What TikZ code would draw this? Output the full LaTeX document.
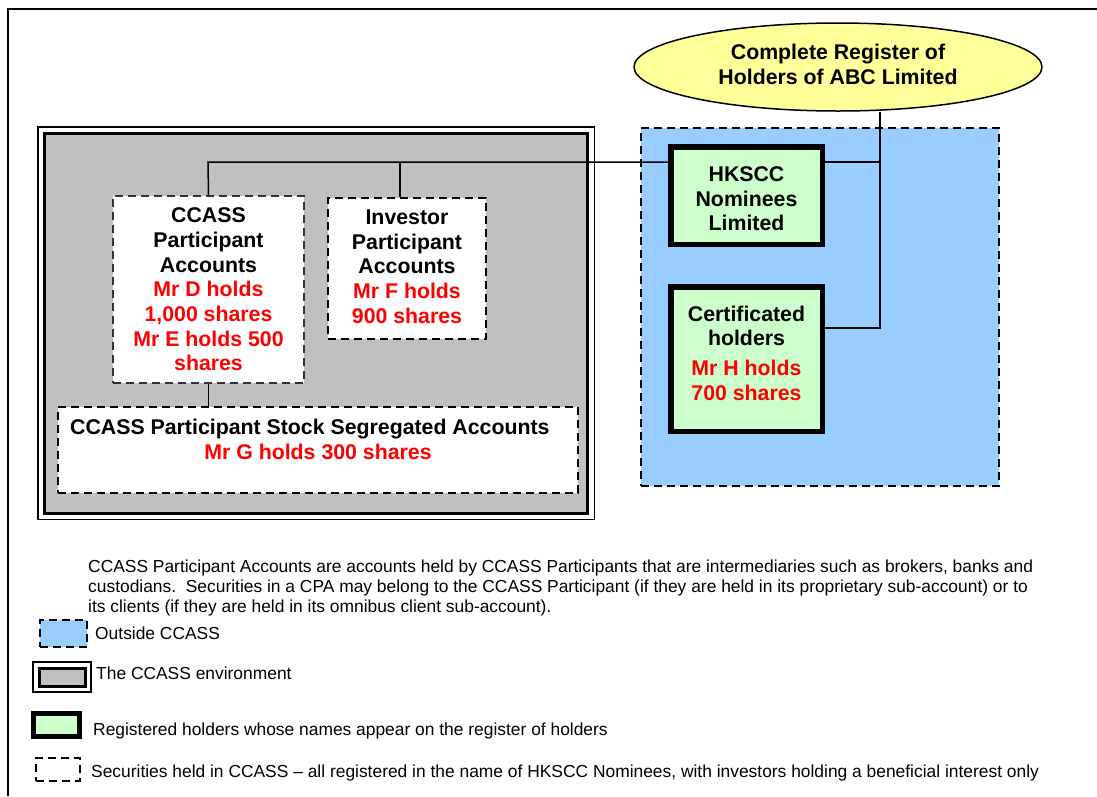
\documentclass[tikz,border=0pt]{standalone}
\usepackage{fontspec}
\setmainfont{Liberation Sans}
\usetikzlibrary{shapes.geometric}
\definecolor{ellyellow}{HTML}{FFFF99}
\definecolor{outblue}{HTML}{99CCFF}
\definecolor{reggreen}{HTML}{CCFFCC}
\definecolor{envgray}{HTML}{C0C0C0}
\definecolor{txtred}{HTML}{FF0000}
\newcommand\redtxt[1]{\textcolor{txtred}{#1}}
\begin{document}
\begin{tikzpicture}[x=1pt,y=-1pt,
  bigfont/.style={font=\fontsize{21.3}{24.7}\selectfont\bfseries},
  smallfont/.style={font=\fontsize{17.4}{20}\selectfont},
  dashbox/.style={draw=black,line width=1.8pt,dash pattern=on 8pt off 5pt,fill=white,inner sep=0pt,align=center,bigfont},
  regbox/.style={draw=black,line width=5.5pt,fill=reggreen,inner sep=0pt,align=center,bigfont},
  envouter/.style={draw=black,line width=1.5pt,fill=white,inner sep=0pt},
  envinner/.style={draw=black,line width=3pt,fill=envgray,inner sep=0pt},
  outbox/.style={draw=black,line width=1.8pt,dash pattern=on 8pt off 5pt,fill=outblue,inner sep=0pt},
  conn/.style={draw=black,line width=1.5pt},
  legtext/.style={smallfont,inner sep=0pt,anchor=base west}]
\useasboundingbox (0,0) rectangle (1097,796);
% outer frame
\coordinate (fbl) at (8,796);
\coordinate (ftl) at (8,9);
\coordinate (ftr) at (1097,9);
\draw[line width=1.5pt] (fbl) -- (ftl) -- (ftr);
% CCASS environment
\node[envouter,minimum width=556.5pt,minimum height=392.5pt] (envo) at (316,323) {};
\node[envinner,minimum width=543pt,minimum height=380pt] (envi) at (316,323.5) {};
% outside CCASS
\node[outbox,minimum width=358pt,minimum height=358pt] (outs) at (820,307) {};
% register ellipse
\node[ellipse,draw=black,line width=1.5pt,fill=ellyellow,minimum width=408pt,minimum height=88pt,inner sep=0pt,align=center,bigfont,text depth=6pt] (reg) at (838,67) {Complete Register of\\Holders of ABC Limited};
% registered holders
\node[regbox,minimum width=151.5pt,minimum height=97.5pt] (hk) at (746.5,195.5) {\rule{0pt}{21.3pt}HKSCC\\Nominees\\Limited};
\node[regbox,minimum width=151.5pt,minimum height=144.5pt,text depth=12pt] (cert) at (746.5,359) {Certificated\\holders\\[5pt]\redtxt{Mr H holds}\\\redtxt{700 shares}};
% CCASS accounts
\node[dashbox,draw=black!80,minimum width=191pt,minimum height=187pt] (cpa) at (208.5,289.5) {CCASS\\Participant\\Accounts\\\redtxt{Mr D holds}\\\redtxt{1,000 shares}\\\redtxt{Mr E holds 500}\\\redtxt{shares}};
\node[dashbox,minimum width=158pt,minimum height=141pt,text depth=4pt] (ipa) at (407,268.5) {Investor\\Participant\\Accounts\\\redtxt{Mr F holds}\\\redtxt{900 shares}};
\node[dashbox,minimum width=520pt,minimum height=86pt] (seg) at (318,450) {};
\node[bigfont,inner sep=0pt,anchor=base west] (segt) at (70,434.5) {CCASS Participant Stock Segregated Accounts};
\node[bigfont,inner sep=0pt,anchor=base,text=txtred] (segr) at (318,459.5) {Mr G holds 300 shares};
% connectors
\coordinate (top) at (880,112);
\coordinate (jh) at (880,162);
\coordinate (jc) at (880,328);
\coordinate (jl) at (208,162);
\coordinate (ji) at (400,162);
\draw[conn] (top) -- (jc) -- (cert.east |- jc);
\draw[conn] (hk.east |- jh) -- (jh);
\draw[conn] (hk.west |- jl) -- (jl) -- (cpa.north);
\draw[conn] (ji) -- (ji |- ipa.north);
\draw[conn] (cpa.south) -- (cpa.south |- seg.north);
% legend
\node[legtext,align=left,anchor=north west] (para) at (88,559.5) {CCASS Participant Accounts are accounts held by CCASS Participants that are intermediaries such as brokers, banks and\\custodians.\ \ Securities in a CPA may belong to the CCASS Participant (if they are held in its proprietary sub-account) or to\\its clients (if they are held in its omnibus client sub-account).};
\node[outbox,line width=1.5pt,minimum width=47pt,minimum height=27pt] (lg1) at (63.5,633.5) {};
\node[legtext] (lt1) at (95,639) {Outside CCASS};
\node[envouter,minimum width=58pt,minimum height=30pt] (lg2o) at (62,677) {};
\node[envinner,minimum width=46pt,minimum height=18pt] (lg2i) at (62,677) {};
\node[legtext] (lt2) at (96,679) {The CCASS environment};
\node[regbox,line width=5pt,minimum width=46pt,minimum height=23pt] (lg3) at (56.5,725) {};
\node[legtext] (lt3) at (93,735) {Registered holders whose names appear on the register of holders};
\node[dashbox,line width=1.5pt,minimum width=44pt,minimum height=23pt] (lg4) at (58,769.5) {};
\node[legtext] (lt4) at (91,777) {Securities held in CCASS – all registered in the name of HKSCC Nominees, with investors holding a beneficial interest only};
\end{tikzpicture}
\end{document}
